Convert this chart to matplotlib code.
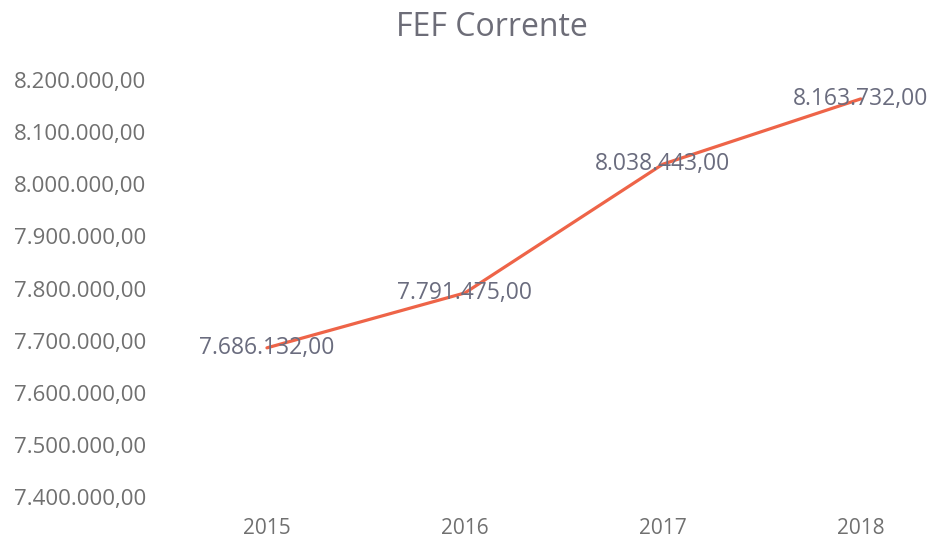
import matplotlib
matplotlib.use("Agg")
import matplotlib.pyplot as plt
from matplotlib.ticker import FuncFormatter

years = ["2015", "2016", "2017", "2018"]
values = [7686132.00, 7791475.00, 8038443.00, 8163732.00]
y_ticks = [7400000, 7500000, 7600000, 7700000, 7800000, 7900000, 8000000, 8100000, 8200000]
title = "FEF Corrente"

def br(v, pos=None):
    s = f"{v:,.2f}"
    return s.replace(",", "X").replace(".", ",").replace("X", ".")

plt.rcParams['font.family'] = ['Open Sans', 'DejaVu Sans']

fig = plt.figure(figsize=(9.3, 5.41), dpi=100)
ax = fig.add_axes([168/930, 44/541, (930-168)/930, (497-80)/541])
x = list(range(len(years)))
ax.plot(x, values, color="#EE6448", linewidth=2.3, solid_capstyle="round")
for xi, v in zip(x, values):
    ax.text(xi, v, br(v), ha="center", va="center", fontsize=16.5, color="#6A6C7E")

ax.set_xlim(-0.5, 3.35)
ax.set_ylim(7400000, 8200000)
ax.set_yticks(y_ticks)
ax.yaxis.set_major_formatter(FuncFormatter(br))
ax.set_xticks(x)
ax.set_xticklabels(years)
ax.tick_params(axis="both", length=0, labelsize=16, labelcolor="#707070")
ax.tick_params(axis="y", pad=16)
ax.tick_params(axis="x", labelsize=15, pad=15)
for s in ax.spines.values():
    s.set_visible(False)
fig.text(492/930, 1 - 27/541, title, ha="center", va="center", fontsize=23, color="#6D6D78")
fig.savefig("out.png", dpi=100)
